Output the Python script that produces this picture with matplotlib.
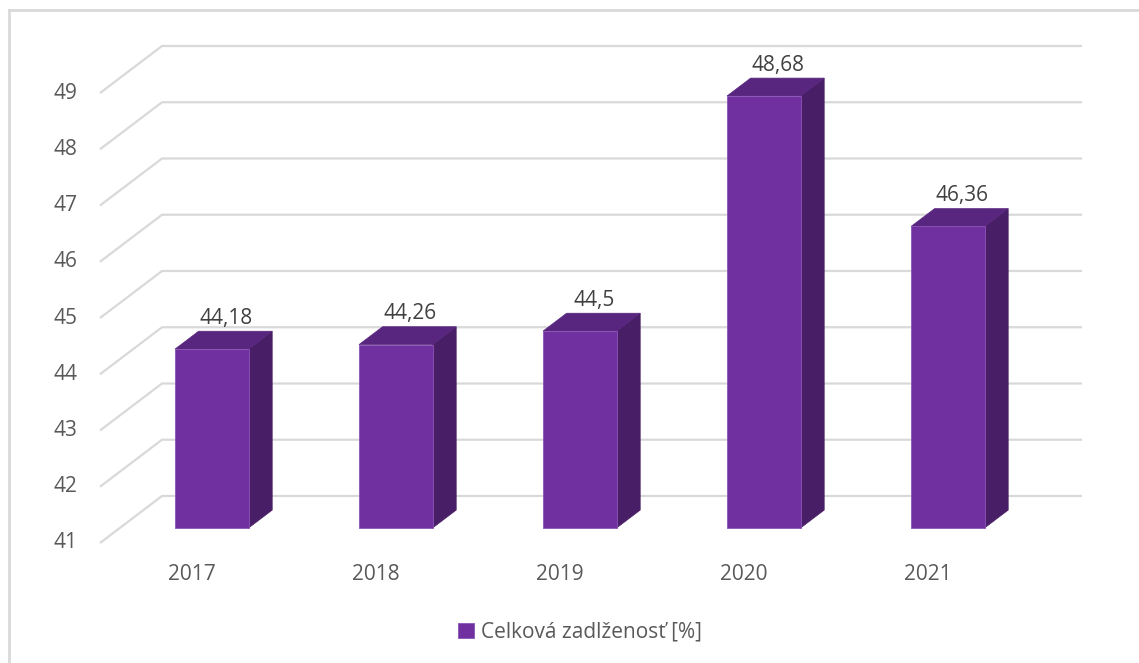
import numpy as np
import matplotlib.pyplot as plt
from matplotlib.patches import Polygon, Patch

years = ['2017', '2018', '2019', '2020', '2021']
debt_ratio = [44.18, 44.26, 44.5, 48.68, 46.36]
value_labels = ['44,18', '44,26', '44,5', '48,68', '46,36']
y_ticks = [41, 42, 43, 44, 45, 46, 47, 48, 49]
series_name = 'Celková zadlženosť [%]'

plt.rcParams['font.family'] = ['Open Sans', 'DejaVu Sans']

W, H = 1139, 663
fig = plt.figure(figsize=(W / 100, H / 100), dpi=100)
fig.patch.set_facecolor('white')

# axes box spans the front floor edge up to the back wall top
ax = fig.add_axes([100 / W, 1 - 543 / H, 982 / W, 497 / H])
ax.set_axis_off()

ymin, ymax = 41, 49
DX, DY = 0.337, 0.836          # full depth offset in data units
t0, t1 = 0.32, 0.70            # front / back plane of the bars
half_w = 0.2
ax.set_xlim(-0.5, len(years) - 0.5 + DX)
ax.set_ylim(ymin, ymax + DY)

grid_c = '#D9D9D9'
for v in y_ticks:
    ax.plot([-0.5, -0.5 + DX, len(years) - 0.5 + DX], [v, v + DY, v + DY],
            color=grid_c, lw=1.6, zorder=1, clip_on=False, solid_capstyle='butt')
    ax.annotate(str(v), (-0.5, v), xytext=(-23, 0), textcoords='offset pixels',
                ha='right', va='center', fontsize=15, color='#595959')

front_c, top_c, side_c = '#7030A0', '#58267F', '#481E66'
s = t1 - t0
for i, (v, lab) in enumerate(zip(debt_ratio, value_labels)):
    x0 = i - half_w + t0 * DX
    x1 = i + half_w + t0 * DX
    y0 = ymin + t0 * DY
    y1 = v + t0 * DY
    front = Polygon([(x0, y0), (x1, y0), (x1, y1), (x0, y1)], closed=True,
                    facecolor=front_c, edgecolor='#8A55B5', lw=0.6, zorder=3)
    top = Polygon([(x0, y1), (x1, y1), (x1 + s * DX, y1 + s * DY), (x0 + s * DX, y1 + s * DY)],
                  closed=True, facecolor=top_c, edgecolor=top_c, lw=0.5, zorder=3)
    side = Polygon([(x1, y0), (x1 + s * DX, y0 + s * DY), (x1 + s * DX, y1 + s * DY), (x1, y1)],
                   closed=True, facecolor=side_c, edgecolor=side_c, lw=0.5, zorder=3)
    for p in (side, top, front):
        ax.add_patch(p)
    ax.annotate(lab, (i + (t0 + t1) / 2 * DX + 0.015, v + t1 * DY), xytext=(0, 13),
                textcoords='offset pixels', ha='center', va='center',
                fontsize=15, color='#404040', zorder=4)
    ax.annotate(years[i], (i, ymin), xytext=(0, -31), textcoords='offset pixels',
                ha='center', va='center', fontsize=15, color='#595959')

# chart area border (top and left edges visible)
fig.add_artist(plt.Line2D([9 / W, 9 / W], [0, 1 - 10 / H], transform=fig.transFigure,
                          color=grid_c, lw=2))
fig.add_artist(plt.Line2D([9 / W, 1], [1 - 10 / H, 1 - 10 / H], transform=fig.transFigure,
                          color=grid_c, lw=2))

fig.legend(handles=[Patch(facecolor=front_c, edgecolor='#8A55B5', lw=0.6)],
           labels=[series_name], loc='center', bbox_to_anchor=(580 / W, 1 - 632 / H),
           frameon=False, fontsize=15, handlelength=0.75, handleheight=0.75,
           handletextpad=0.35, labelcolor='#595959')

fig.savefig('out.png', dpi=100, facecolor='white')
